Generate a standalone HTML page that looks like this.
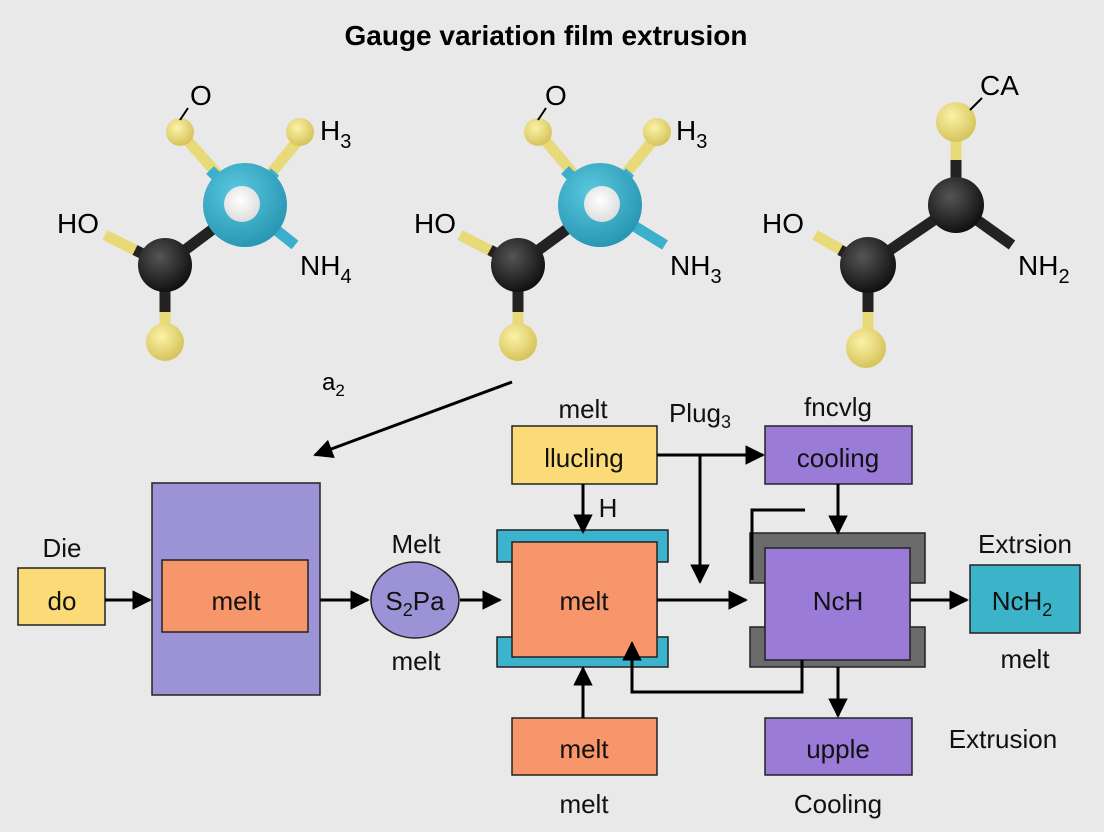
<!DOCTYPE html>
<html><head><meta charset="utf-8"><style>
html,body{margin:0;padding:0;background:#e9e9e9;}
svg{display:block;font-family:"Liberation Sans",sans-serif;}
</style></head><body>
<svg width="1104" height="832" viewBox="0 0 1104 832" xmlns="http://www.w3.org/2000/svg">
<defs>
<radialGradient id="gb" cx="40%" cy="35%" r="65%"><stop offset="0" stop-color="#5cc8e0"/><stop offset="1" stop-color="#2a98b4"/></radialGradient>
<radialGradient id="gk" cx="40%" cy="35%" r="65%"><stop offset="0" stop-color="#555"/><stop offset="1" stop-color="#111"/></radialGradient>
<radialGradient id="gy" cx="40%" cy="35%" r="65%"><stop offset="0" stop-color="#fbf2a8"/><stop offset="1" stop-color="#d6c45a"/></radialGradient>
<radialGradient id="gw" cx="45%" cy="40%" r="60%"><stop offset="0" stop-color="#fff"/><stop offset="1" stop-color="#ddd"/></radialGradient>
<marker id="ah" viewBox="0 0 10 10" refX="9" refY="5" markerWidth="6.5" markerHeight="6.5" orient="auto"><path d="M0,0L10,5L0,10z" fill="#000"/></marker>
</defs>
<rect width="1104" height="832" fill="#e9e9e9"/>
<text x="546" y="45" font-size="28" font-weight="bold" text-anchor="middle">Gauge variation film extrusion</text>

<g stroke-linecap="butt">
<line x1="180" y1="132" x2="245" y2="205" stroke="#e8d979" stroke-width="11"/>
<line x1="305" y1="132" x2="245" y2="205" stroke="#e8d979" stroke-width="11"/>
<line x1="210" y1="170" x2="245" y2="205" stroke="#3bb0cc" stroke-width="11"/>
<line x1="275" y1="172" x2="245" y2="205" stroke="#3bb0cc" stroke-width="11"/>
<line x1="245" y1="205" x2="295" y2="245" stroke="#3bb0cc" stroke-width="11"/>
<line x1="165" y1="265" x2="245" y2="205" stroke="#222" stroke-width="11"/>
<line x1="105" y1="235" x2="165" y2="265" stroke="#e8d979" stroke-width="11"/>
<line x1="135" y1="250" x2="165" y2="265" stroke="#222" stroke-width="11"/>
<line x1="165" y1="265" x2="165" y2="340" stroke="#e8d979" stroke-width="11"/>
<line x1="165" y1="265" x2="165" y2="312" stroke="#222" stroke-width="11"/>
</g>
<circle cx="245" cy="205" r="42" fill="url(#gb)"/>
<circle cx="242" cy="204" r="18" fill="url(#gw)"/>
<circle cx="165" cy="265" r="27" fill="url(#gk)"/>
<circle cx="180" cy="132" r="14" fill="url(#gy)"/>
<circle cx="300" cy="132" r="14" fill="url(#gy)"/>
<circle cx="165" cy="342" r="19" fill="url(#gy)"/>
<line x1="180" y1="120" x2="188" y2="108" stroke="#000" stroke-width="2"/>
<text x="190" y="105" font-size="28">O</text>
<text x="320" y="140" font-size="28">H<tspan font-size="20" dy="8">3</tspan></text>
<text x="57" y="233" font-size="28">HO</text>
<text x="300" y="275" font-size="28">NH<tspan font-size="20" dy="8">4</tspan></text>

<g transform="translate(355,0)">
<line x1="183" y1="132" x2="245" y2="205" stroke="#e8d979" stroke-width="11"/>
<line x1="305" y1="132" x2="245" y2="205" stroke="#e8d979" stroke-width="11"/>
<line x1="210" y1="170" x2="245" y2="205" stroke="#3bb0cc" stroke-width="11"/>
<line x1="275" y1="172" x2="245" y2="205" stroke="#3bb0cc" stroke-width="11"/>
<line x1="245" y1="205" x2="310" y2="245" stroke="#3bb0cc" stroke-width="11"/>
<line x1="163" y1="265" x2="245" y2="205" stroke="#222" stroke-width="11"/>
<line x1="105" y1="235" x2="163" y2="265" stroke="#e8d979" stroke-width="11"/>
<line x1="135" y1="250" x2="163" y2="265" stroke="#222" stroke-width="11"/>
<line x1="163" y1="265" x2="163" y2="340" stroke="#e8d979" stroke-width="11"/>
<line x1="163" y1="265" x2="163" y2="312" stroke="#222" stroke-width="11"/>
<circle cx="245" cy="205" r="42" fill="url(#gb)"/>
<circle cx="247" cy="204" r="18" fill="url(#gw)"/>
<circle cx="163" cy="265" r="27" fill="url(#gk)"/>
<circle cx="183" cy="132" r="14" fill="url(#gy)"/>
<circle cx="302" cy="132" r="14" fill="url(#gy)"/>
<circle cx="163" cy="342" r="19" fill="url(#gy)"/>
<line x1="183" y1="120" x2="191" y2="108" stroke="#000" stroke-width="2"/>
</g>
<text x="545" y="105" font-size="28">O</text>
<text x="676" y="140" font-size="28">H<tspan font-size="20" dy="8">3</tspan></text>
<text x="414" y="233" font-size="28">HO</text>
<text x="670" y="275" font-size="28">NH<tspan font-size="20" dy="8">3</tspan></text>

<line x1="956" y1="125" x2="956" y2="205" stroke="#e8d979" stroke-width="11"/>
<line x1="956" y1="160" x2="956" y2="205" stroke="#222" stroke-width="11"/>
<line x1="956" y1="205" x2="1012" y2="245" stroke="#222" stroke-width="11"/>
<line x1="868" y1="265" x2="956" y2="205" stroke="#222" stroke-width="11"/>
<line x1="815" y1="235" x2="868" y2="265" stroke="#e8d979" stroke-width="11"/>
<line x1="840" y1="250" x2="868" y2="265" stroke="#222" stroke-width="11"/>
<line x1="868" y1="265" x2="868" y2="345" stroke="#e8d979" stroke-width="11"/>
<line x1="868" y1="265" x2="868" y2="312" stroke="#222" stroke-width="11"/>
<circle cx="956" cy="205" r="28" fill="url(#gk)"/>
<circle cx="868" cy="265" r="28" fill="url(#gk)"/>
<circle cx="956" cy="122" r="20" fill="url(#gy)"/>
<circle cx="866" cy="348" r="20" fill="url(#gy)"/>
<line x1="970" y1="110" x2="982" y2="98" stroke="#000" stroke-width="2"/>
<text x="980" y="95" font-size="28">CA</text>
<text x="762" y="233" font-size="28">HO</text>
<text x="1018" y="275" font-size="28">NH<tspan font-size="20" dy="8">2</tspan></text>

<text x="322" y="390" font-size="24">a<tspan font-size="17" dy="6">2</tspan></text>
<line x1="512" y1="382" x2="315" y2="455" stroke="#000" stroke-width="3" marker-end="url(#ah)"/>

<g stroke="#222" stroke-width="1.5" font-size="26">
<rect x="18" y="568" width="87" height="57" fill="#fbdb78"/>
<rect x="152" y="483" width="168" height="212" fill="#9b93d6"/>
<rect x="162" y="560" width="146" height="72" fill="#f7966a"/>
<ellipse cx="415" cy="600" rx="44" ry="38" fill="#9b93d6"/>
<path d="M497,530H668V562H657V637H668V667H497V637H512V562H497Z" fill="#3bb3cc"/>
<rect x="512" y="542" width="145" height="115" fill="#f7966a"/>
<rect x="512" y="426" width="145" height="58" fill="#fbdb78"/>
<rect x="765" y="426" width="147" height="58" fill="#9a7cd8"/>
<path d="M750,533H925V583H910V627H925V667H750V627H765V583H750Z" fill="#6b6b6b"/>
<rect x="765" y="548" width="145" height="112" fill="#9a7cd8"/>
<rect x="970" y="565" width="110" height="68" fill="#3bb3c8"/>
<rect x="765" y="718" width="147" height="57" fill="#9a7cd8"/>
<rect x="512" y="718" width="145" height="57" fill="#f7966a"/>
</g>
<g fill="none" stroke="#000" stroke-width="3">
<line x1="105" y1="600" x2="150" y2="600" marker-end="url(#ah)"/>
<line x1="320" y1="600" x2="368" y2="600" marker-end="url(#ah)"/>
<line x1="460" y1="600" x2="500" y2="600" marker-end="url(#ah)"/>
<line x1="657" y1="600" x2="746" y2="600" marker-end="url(#ah)"/>
<line x1="583" y1="484" x2="583" y2="532" marker-end="url(#ah)"/>
<line x1="657" y1="455" x2="763" y2="455" marker-end="url(#ah)"/>
<line x1="700" y1="455" x2="700" y2="582" marker-end="url(#ah)"/>
<line x1="838" y1="484" x2="838" y2="533" marker-end="url(#ah)"/>
<polyline points="805,510 752,510 752,580"/>
<polyline points="802,660 802,692 632,692 632,643" marker-end="url(#ah)"/>
<line x1="910" y1="600" x2="967" y2="600" marker-end="url(#ah)"/>
<line x1="838" y1="667" x2="838" y2="716" marker-end="url(#ah)"/>
<line x1="583" y1="718" x2="583" y2="668" marker-end="url(#ah)"/>
</g>
<g font-size="26" text-anchor="middle" fill="#111">
<text x="62" y="557">Die</text>
<text x="62" y="610">do</text>
<text x="236" y="610">melt</text>
<text x="416" y="553">Melt</text>
<text x="415" y="610">S<tspan font-size="18" dy="6">2</tspan><tspan dy="-6">Pa</tspan></text>
<text x="416" y="670">melt</text>
<text x="583" y="418">melt</text>
<text x="584" y="467">llucling</text>
<text x="608" y="517">H</text>
<text x="700" y="422">Plug<tspan font-size="18" dy="6">3</tspan></text>
<text x="838" y="416">fncvlg</text>
<text x="838" y="467">cooling</text>
<text x="584" y="610">melt</text>
<text x="838" y="610">NcH</text>
<text x="1025" y="553">Extrsion</text>
<text x="1022" y="610">NcH<tspan font-size="18" dy="6">2</tspan></text>
<text x="1025" y="668">melt</text>
<text x="838" y="758">upple</text>
<text x="838" y="813">Cooling</text>
<text x="1003" y="748">Extrusion</text>
<text x="584" y="758">melt</text>
<text x="584" y="813">melt</text>
</g>
</svg>
</body></html>
